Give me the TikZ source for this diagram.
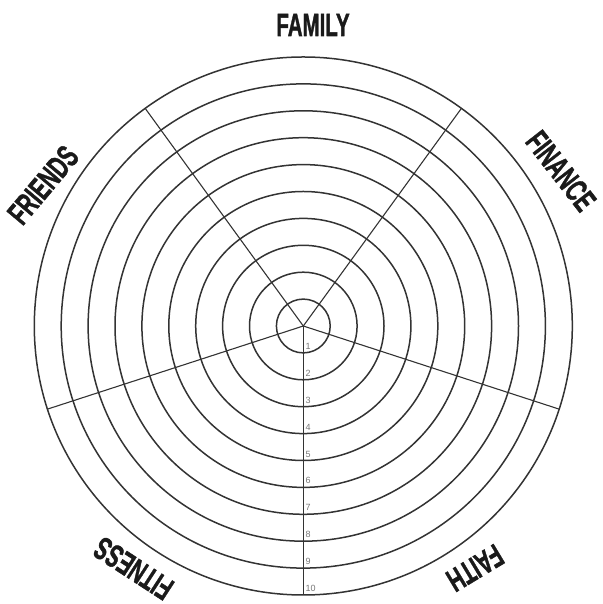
\documentclass[tikz,border=0pt]{standalone}
\usepackage{fontspec}
\usepackage{graphicx}
\usetikzlibrary{calc}
\setmainfont{Liberation Sans}
\newfontfamily\labfont{Liberation Sans Bold}[FakeBold=1.6]
\definecolor{ringcol}{HTML}{333333}
\definecolor{numcol}{HTML}{777777}
\definecolor{labcol}{HTML}{1A1A1A}
\newcommand{\condlab}[1]{\scalebox{0.64}[1]{#1}}
\begin{document}
\begin{tikzpicture}[x=1pt,y=1pt,
  ring/.style={draw=ringcol,line width=1.5pt},
  spoke/.style={draw=ringcol,line width=1.1pt},
  catlabel/.style={text=labcol,font=\labfont\fontsize{32}{32}\selectfont,inner sep=0pt},
  numlabel/.style={text=numcol,font=\fontsize{9}{9}\selectfont,inner sep=0pt,anchor=west}]
\useasboundingbox (0,0) rectangle (602,604);
\coordinate (c) at (303.3,278);
% rings
\foreach \k in {1,...,10}{
  \draw[ring] (c) circle[radius=26.9*\k];
}
% spokes
\foreach \a/\n in {-90/s1,-18/s2,54/s3,126/s4,198/s5}{
  \coordinate (\n) at ($(c)+(\a:269)$);
  \draw[spoke] (c) -- (\n);
}
% numbers
\foreach \k in {1,...,10}{
  \node[numlabel] (n\k) at (305.5,{284.5-26.9*\k}) {\k};
}
% category labels
\node[catlabel] (family) at (313,579) {\condlab{FAMILY}};
\node[catlabel,rotate=50] (friends) at (43,419) {\condlab{FRIENDS}};
\node[catlabel,rotate=-52] (finance) at (561,433) {\condlab{FINANCE}};
\node[catlabel,rotate=-149] (faith) at (475,36) {\condlab{FAITH}};
\node[catlabel,rotate=147] (fitness) at (133.5,35.5) {\condlab{FITNESS}};
\end{tikzpicture}
\end{document}
